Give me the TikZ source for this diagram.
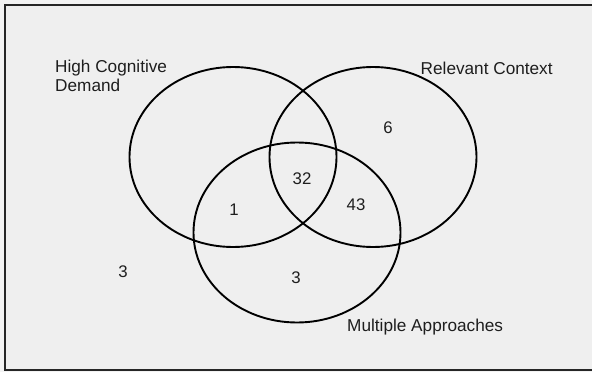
\documentclass[tikz,border=0pt]{standalone}
\usepackage{fontspec}
\setmainfont{Liberation Sans}
\usetikzlibrary{shapes.geometric}
\definecolor{bgout}{HTML}{F3F3F3}
\definecolor{bgin}{HTML}{EFEFEF}
\definecolor{ink}{HTML}{1E1E1E}
\tikzset{
  setring/.style={draw=black, line width=1.9pt, ellipse, minimum width=207pt, minimum height=180pt, inner sep=0pt},
  lbl/.style={text=ink, font=\fontsize{17.2}{19}\selectfont, inner sep=0pt, align=left},
  num/.style={text=ink, font=\fontsize{16.8}{19}\selectfont, inner sep=0pt}
}
\begin{document}
\begin{tikzpicture}[x=1pt, y=-1pt]
\useasboundingbox (0,0) rectangle (592,372);
\fill[bgout] (0,0) rectangle (592,372);
\begin{scope}
\clip (0,0) rectangle (592,372);
\draw[line width=2pt, fill=bgin, draw=black!85] (5,5) rectangle (600,369.5);
\end{scope}
\node[setring] (hcd) at (233,157) {};
\node[setring] (rc) at (373,157) {};
\node[setring] (ma) at (297,232.5) {};
\node[lbl, anchor=west] (thcd) at (55,75.5) {High Cognitive\\Demand};
\node[lbl, anchor=west] (trc) at (420.5,68.5) {Relevant Context};
\node[lbl, anchor=west] (tma) at (347,327.5) {Multiple Approaches};
\node[num] (n6) at (388,127.5) {6};
\node[num] (n32) at (302,178.5) {32};
\node[num] (n1) at (234,209.5) {1};
\node[num] (n43) at (356,204.5) {43};
\node[num] (n3b) at (296,277.5) {3};
\node[num] (n3o) at (123,271.5) {3};
\end{tikzpicture}
\end{document}
